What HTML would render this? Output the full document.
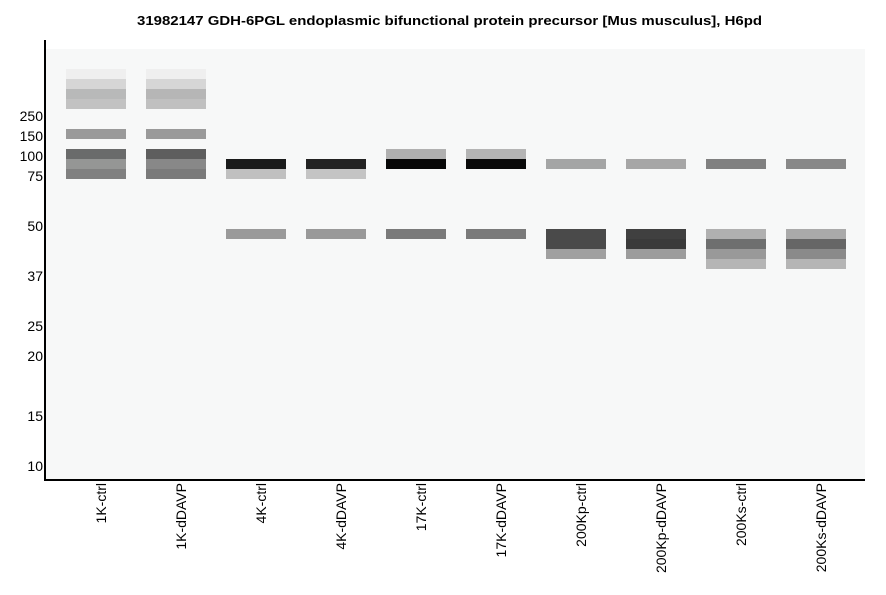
<!DOCTYPE html>
<html><head><meta charset="utf-8"><style>
html,body{margin:0;padding:0;background:#fff;}
svg{display:block;font-family:"Liberation Sans",sans-serif;}
</style></head><body>
<svg width="886" height="595" xmlns="http://www.w3.org/2000/svg">
<rect x="0" y="0" width="886" height="595" fill="#fff"/>
<text x="137" y="25" font-size="13" font-weight="bold" textLength="625" lengthAdjust="spacingAndGlyphs" fill="#000">31982147 GDH-6PGL endoplasmic bifunctional protein precursor [Mus musculus], H6pd</text>
<rect x="46" y="49" width="819" height="430" fill="#f7f8f8"/>
<g shape-rendering="crispEdges">
<rect x="66" y="69" width="60" height="10" fill="#efefef"/>
<rect x="66" y="79" width="60" height="10" fill="#d6d6d6"/>
<rect x="66" y="89" width="60" height="10" fill="#b8b9b9"/>
<rect x="66" y="99" width="60" height="10" fill="#c2c2c2"/>
<rect x="66" y="129" width="60" height="10" fill="#9a9a9a"/>
<rect x="66" y="149" width="60" height="10" fill="#6a6b6b"/>
<rect x="66" y="159" width="60" height="10" fill="#959695"/>
<rect x="66" y="169" width="60" height="10" fill="#808080"/>
<rect x="146" y="69" width="60" height="10" fill="#efefef"/>
<rect x="146" y="79" width="60" height="10" fill="#d6d6d6"/>
<rect x="146" y="89" width="60" height="10" fill="#b6b6b6"/>
<rect x="146" y="99" width="60" height="10" fill="#c0c0c0"/>
<rect x="146" y="129" width="60" height="10" fill="#9a9a9a"/>
<rect x="146" y="149" width="60" height="10" fill="#5e5e5e"/>
<rect x="146" y="159" width="60" height="10" fill="#888888"/>
<rect x="146" y="169" width="60" height="10" fill="#7a7a7a"/>
<rect x="226" y="159" width="60" height="10" fill="#1a1b1b"/>
<rect x="226" y="169" width="60" height="10" fill="#c0c0c0"/>
<rect x="226" y="229" width="60" height="10" fill="#9a9a9a"/>
<rect x="306" y="159" width="60" height="10" fill="#222222"/>
<rect x="306" y="169" width="60" height="10" fill="#c4c4c4"/>
<rect x="306" y="229" width="60" height="10" fill="#999999"/>
<rect x="386" y="149" width="60" height="10" fill="#b0b0b0"/>
<rect x="386" y="159" width="60" height="10" fill="#080808"/>
<rect x="386" y="229" width="60" height="10" fill="#7a7a7a"/>
<rect x="466" y="149" width="60" height="10" fill="#b4b4b4"/>
<rect x="466" y="159" width="60" height="10" fill="#0a0a0a"/>
<rect x="466" y="229" width="60" height="10" fill="#7a7a7a"/>
<rect x="546" y="159" width="60" height="10" fill="#a4a5a5"/>
<rect x="546" y="229" width="60" height="20" fill="#4a4a4a"/>
<rect x="546" y="249" width="60" height="10" fill="#a0a0a0"/>
<rect x="626" y="159" width="60" height="10" fill="#a6a6a6"/>
<rect x="626" y="229" width="60" height="10" fill="#404040"/>
<rect x="626" y="239" width="60" height="10" fill="#3a3a3a"/>
<rect x="626" y="249" width="60" height="10" fill="#9c9c9c"/>
<rect x="706" y="159" width="60" height="10" fill="#808080"/>
<rect x="706" y="229" width="60" height="10" fill="#b0b0b0"/>
<rect x="706" y="239" width="60" height="10" fill="#6e6f6f"/>
<rect x="706" y="249" width="60" height="10" fill="#999999"/>
<rect x="706" y="259" width="60" height="10" fill="#b5b5b5"/>
<rect x="786" y="159" width="60" height="10" fill="#888888"/>
<rect x="786" y="229" width="60" height="10" fill="#aaaaaa"/>
<rect x="786" y="239" width="60" height="10" fill="#666666"/>
<rect x="786" y="249" width="60" height="10" fill="#8a8a8a"/>
<rect x="786" y="259" width="60" height="10" fill="#b5b5b5"/>
<rect x="44" y="40" width="2" height="441" fill="#000"/>
<rect x="44" y="479" width="821" height="2" fill="#000"/>
</g>
<g font-size="14" text-anchor="end" fill="#000">
<text x="43" y="121">250</text>
<text x="43" y="141">150</text>
<text x="43" y="161">100</text>
<text x="43" y="181">75</text>
<text x="43" y="231">50</text>
<text x="43" y="281">37</text>
<text x="43" y="331">25</text>
<text x="43" y="361">20</text>
<text x="43" y="421">15</text>
<text x="43" y="471">10</text>
</g>
<g font-size="14" text-anchor="end" fill="#000">
<text transform="translate(106,483) rotate(-90)">1K-ctrl</text>
<text transform="translate(186,483) rotate(-90)">1K-dDAVP</text>
<text transform="translate(266,483) rotate(-90)">4K-ctrl</text>
<text transform="translate(346,483) rotate(-90)">4K-dDAVP</text>
<text transform="translate(426,483) rotate(-90)">17K-ctrl</text>
<text transform="translate(506,483) rotate(-90)">17K-dDAVP</text>
<text transform="translate(586,483) rotate(-90)">200Kp-ctrl</text>
<text transform="translate(666,483) rotate(-90)">200Kp-dDAVP</text>
<text transform="translate(746,483) rotate(-90)">200Ks-ctrl</text>
<text transform="translate(826,483) rotate(-90)">200Ks-dDAVP</text>
</g>
</svg>
</body></html>
